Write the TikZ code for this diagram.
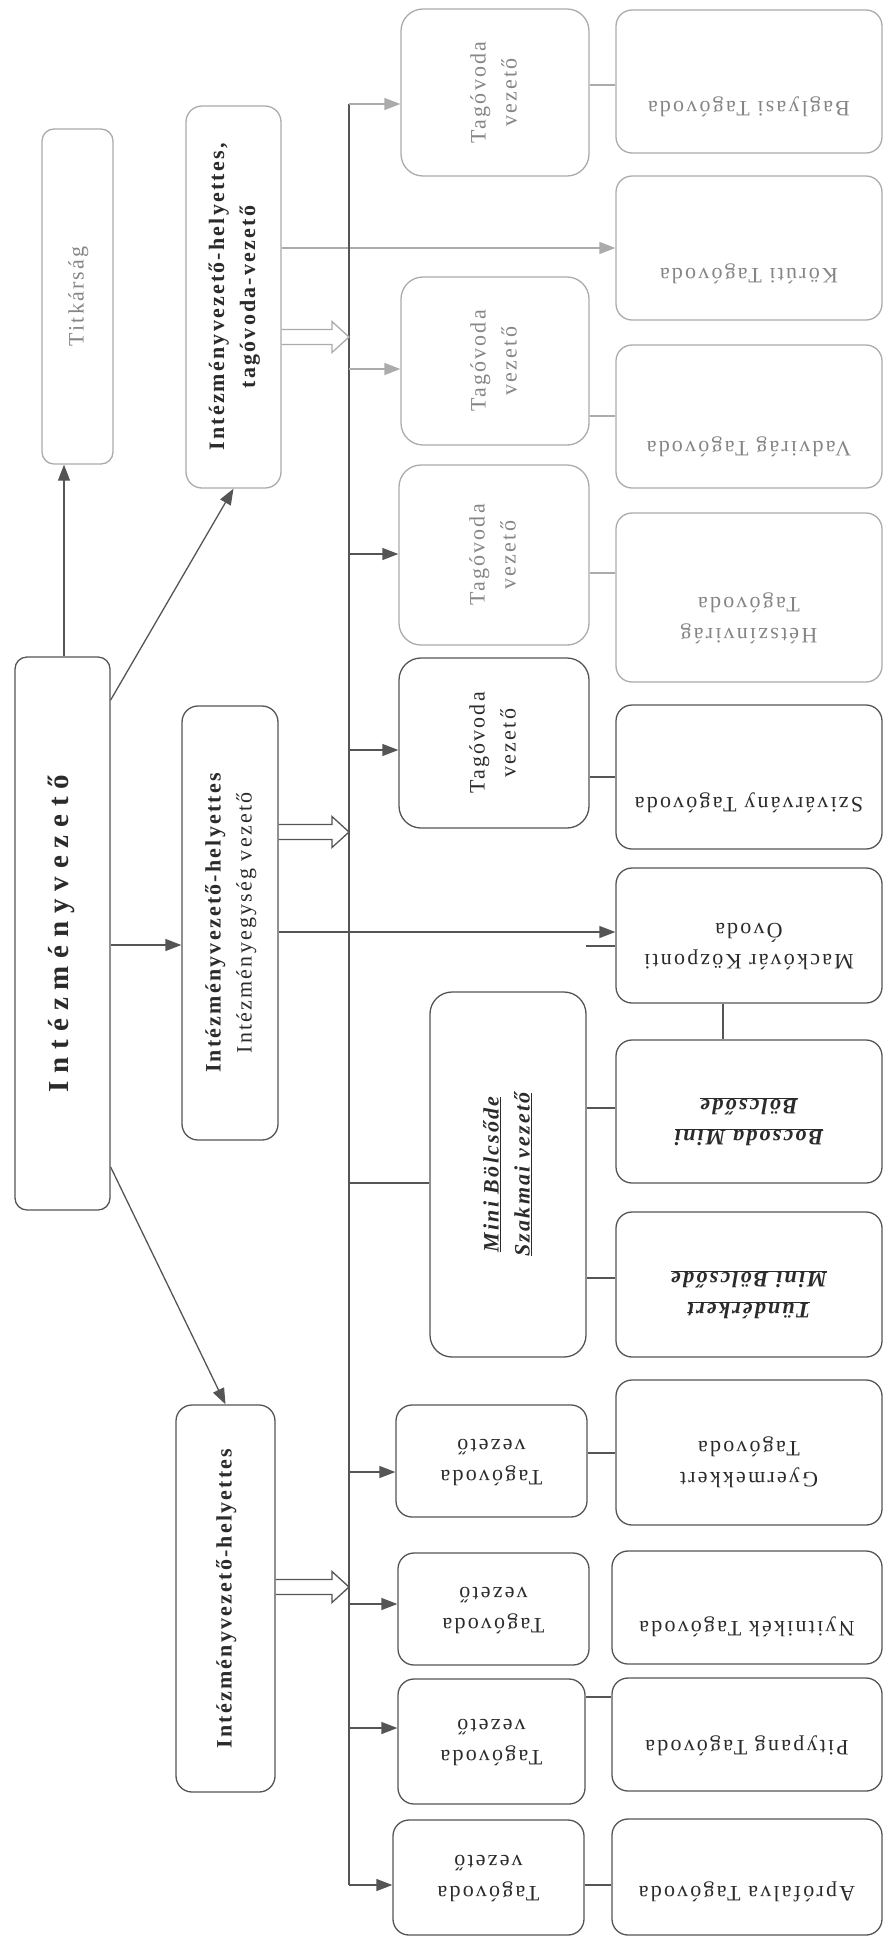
\documentclass[tikz,border=0pt]{standalone}
\usepackage{fontspec}
\setmainfont{Liberation Serif}[LetterSpace=10]
\usepackage{graphicx}
\usetikzlibrary{arrows.meta,calc}

\definecolor{inkline}{HTML}{555555}
\definecolor{inktext}{HTML}{2B2B2B}
\definecolor{fadeline}{HTML}{ABABAB}
\definecolor{fadetext}{HTML}{858585}

\tikzset{
  box/.style={draw=inkline, line width=1.3pt, rounded corners=16pt, inner sep=0pt,
    text=inktext, font=\fontsize{22}{31}\selectfont},
  faded/.style={draw=fadeline, text=fadetext},
  wh/.style 2 args={minimum width=#1, minimum height=#2},
  link/.style={draw=inkline, line width=1.3pt},
  arr/.style={link, -{Triangle[length=16pt,width=12pt]}},
}
% text read from bottom to top, pushed left by half of #1
\newcommand{\uplabel}[2][0pt]{\rotatebox{90}{\begin{tabular}{@{}c@{}}#2\end{tabular}}\hspace{#1}}
% upside-down text, pushed down by half of #1
\newcommand{\downlabel}[2][0pt]{\vbox{\vskip#1\hbox{\rotatebox{180}{\begin{tabular}{@{}c@{}}#2\end{tabular}}}}}
% open double arrow
\newcommand{\hollowarrow}[3]{\draw[link, draw=#3] ($(#1)+(0,7.5)$) -- ($(#2)+(-17,7.5)$) -- ($(#2)+(-17,15.5)$) -- (#2) -- ($(#2)+(-17,-15.5)$) -- ($(#2)+(-17,-7.5)$) -- ($(#1)+(0,-7.5)$);}

\begin{document}
\begin{tikzpicture}[x=1pt,y=-1pt]
  \useasboundingbox (0,0) rectangle (884,1936);
  % management
  \node[box, faded, wh={71}{335}, rounded corners=12pt] (tit) at (77.5,296.5) {\uplabel[10pt]{Titkárság}};
  \node[box, wh={95}{553}, rounded corners=12pt] (iv) at (62.5,933.5)
    {\uplabel[26pt]{\fontsize{29}{40}\selectfont\bfseries\addfontfeatures{LetterSpace=27}Intézményvezető}};
  \node[box, draw=fadeline, wh={95}{382}] (h2) at (233.5,297) {\uplabel{\bfseries Intézményvezető-helyettes,\\ \bfseries tagóvoda-vezető}};
  \node[box, wh={96}{434}] (h1) at (230,923) {\uplabel{\bfseries Intézményvezető-helyettes\\ Intézményegység vezető}};
  \node[box, wh={99}{387}] (h0) at (225.5,1598.5) {\uplabel[30pt]{\bfseries Intézményvezető-helyettes}};
  % leaders
  \node[box, faded, wh={188}{167}, rounded corners=22pt] (tv1) at (495,92.5) {\uplabel[86pt]{Tagóvoda\\ vezető}};
  \node[box, faded, wh={188}{168}, rounded corners=22pt] (tv2) at (495,361) {\uplabel[86pt]{Tagóvoda\\ vezető}};
  \node[box, faded, wh={190}{180}, rounded corners=22pt] (tv3) at (494,555) {\uplabel[86pt]{Tagóvoda\\ vezető}};
  \node[box, wh={190}{170}, rounded corners=22pt] (tv4) at (494,743) {\uplabel[86pt]{Tagóvoda\\ vezető}};
  \node[box, wh={156}{365}, rounded corners=22pt] (mini) at (508,1174.5)
    {\uplabel[56pt]{\bfseries\itshape\underline{Mini Bölcsőde}\\ \bfseries\itshape\underline{Szakmai vezető}}};
  \node[box, wh={191}{112}] (tv5) at (491.5,1461) {\downlabel{Tagóvoda\\ vezető}};
  \node[box, wh={191}{112}] (tv6) at (493.5,1609) {\downlabel{Tagóvoda\\ vezető}};
  \node[box, wh={187}{125}] (tv7) at (491.5,1741.5) {\downlabel{Tagóvoda\\ vezető}};
  \node[box, wh={191}{115}] (tv8) at (488.5,1877.5) {\downlabel{Tagóvoda\\ vezető}};
  % units
  \node[box, faded, wh={266}{143}] (baglyasi) at (749,81.5) {\downlabel[52pt]{Baglyasi Tagóvoda}};
  \node[box, faded, wh={266}{144}] (koruti) at (749,248) {\downlabel[54pt]{Körúti Tagóvoda}};
  \node[box, faded, wh={266}{143}] (vadvirag) at (749,416.5) {\downlabel[62pt]{Vadvirág Tagóvoda}};
  \node[box, faded, wh={266}{169}] (hetszin) at (749,597.5) {\downlabel[44pt]{Hétszínvirág\\ Tagóvoda}};
  \node[box, wh={266}{144}] (sziv) at (749,777) {\downlabel[54pt]{Szivárvány Tagóvoda}};
  \node[box, wh={266}{135}] (mackovar) at (749,935.5) {\downlabel[20pt]{Mackóvár Központi\\ Óvoda}};
  \node[box, wh={266}{143}] (bocsoda) at (749,1111.5)
    {\downlabel[20pt]{\bfseries\itshape\underline{Bocsoda Mini}\\ \bfseries\itshape\underline{Bölcsőde}}};
  \node[box, wh={266}{145}] (tunder) at (749,1284.5)
    {\downlabel[20pt]{\bfseries\itshape\underline{Tündérkert}\\ \bfseries\itshape\underline{Mini Bölcsőde}}};
  \node[box, wh={266}{145}] (gyermek) at (749,1452.5) {\downlabel[22pt]{Gyermekkert\\ Tagóvoda}};
  \node[box, wh={270}{113}] (nyitnikek) at (747,1607.5) {\downlabel[40pt]{Nyitnikék Tagóvoda}};
  \node[box, wh={270}{113}] (pitypang) at (747,1734.5) {\downlabel[24pt]{Pitypang Tagóvoda}};
  \node[box, wh={270}{116}] (aprofalva) at (747,1877) {\downlabel[32pt]{Aprófalva Tagóvoda}};
  % connectors from the head
  \draw[arr] (iv.north -| 64,0) -- (tit.south -| 64,0);
  \draw[arr] (iv.east |- 0,700) -- (h2.south);
  \draw[arr] (iv.east |- 0,945) -- (h1.west |- 0,945);
  \draw[arr] (iv.east |- 0,1167) -- (h0.north);
  \draw[arr, draw=fadeline] (h2.east |- koruti.west) -- (koruti.west);
  \draw[arr] (h1.east |- 0,932) -- (mackovar.west |- 0,932);
  % bus
  \coordinate (bustop) at (349,104);
  \coordinate (busbot) at (349,1885);
  \draw[link] (bustop) -- (busbot);
  \foreach \n/\y/\c in {tv1/104/fadeline, tv2/369/fadeline, tv3/554/inkline, tv4/750/inkline,
                        tv5/1472/inkline, tv6/1604/inkline, tv7/1728/inkline, tv8/1885/inkline}
    \draw[arr, draw=\c] (349,\y) -- (\n.west |- 0,\y);
  \draw[link] (bustop |- 0,1183) -- (mini.west |- 0,1183);
  % open arrows into the bus
  \coordinate (h2out) at (h2.east |- 0,337);
  \coordinate (h2in) at (349,337);
  \coordinate (h1out) at (h1.east |- 0,832);
  \coordinate (h1in) at (349,832);
  \coordinate (h0out) at (h0.east |- 0,1587);
  \coordinate (h0in) at (349,1587);
  \hollowarrow{h2out}{h2in}{fadeline}
  \hollowarrow{h1out}{h1in}{inkline}
  \hollowarrow{h0out}{h0in}{inkline}
  % leaders to units
  \foreach \a/\b/\y/\c in {tv1/baglyasi/85/fadeline, tv2/vadvirag/416/fadeline, tv3/hetszin/573/fadeline,
                           tv4/sziv/777/inkline, mini/bocsoda/1108/inkline, mini/tunder/1278/inkline,
                           tv5/gyermek/1453/inkline, tv7/pitypang/1697/inkline, tv8/aprofalva/1885/inkline}
    \draw[link, draw=\c] (\a.east |- 0,\y) -- (\b.west |- 0,\y);
  \draw[link] (mackovar.south -| 723,0) -- (bocsoda.north -| 723,0);
  \coordinate (stub) at (586,946);
  \draw[link] (mackovar.west |- stub) -- (stub);
\end{tikzpicture}
\end{document}
